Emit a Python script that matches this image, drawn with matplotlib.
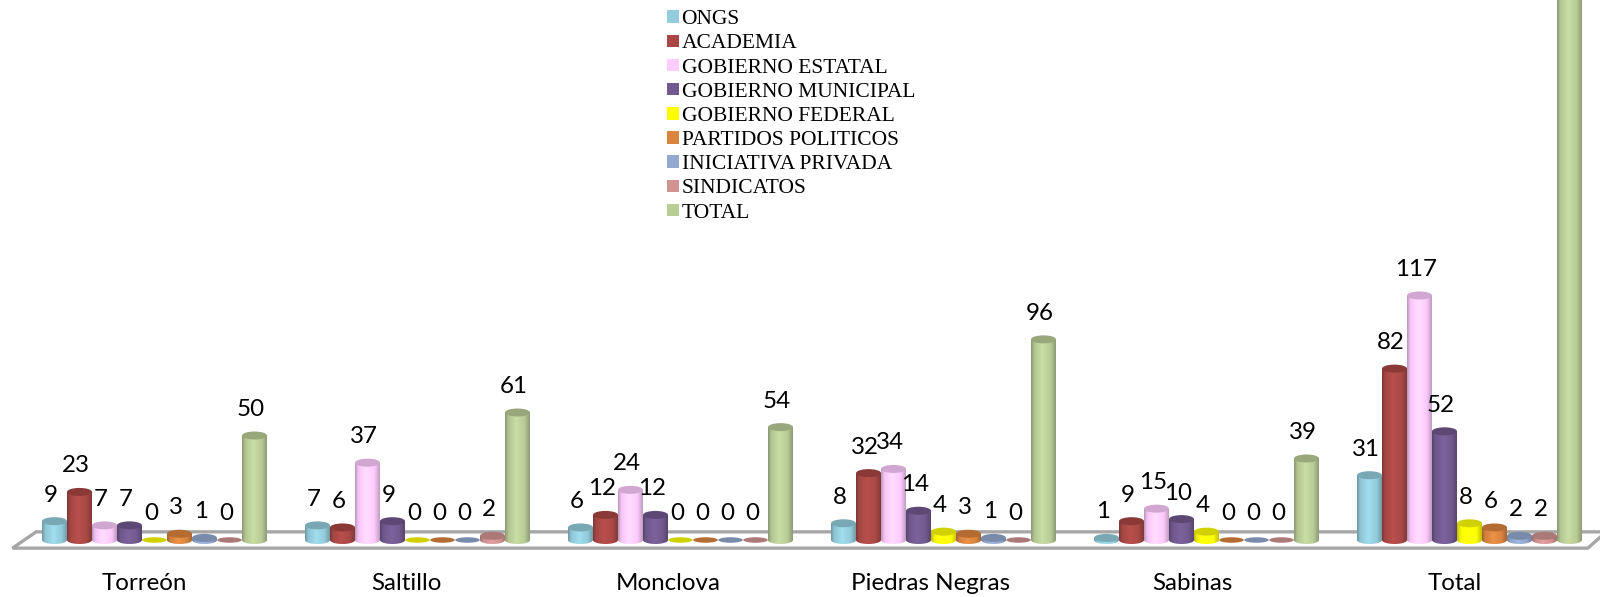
import numpy as np
import matplotlib
matplotlib.use("Agg")
import matplotlib.pyplot as plt
from matplotlib.colors import to_rgb
from matplotlib.patches import Ellipse, Polygon, PathPatch, Patch
from matplotlib.path import Path

# Data
cities = ["Torreón", "Saltillo", "Monclova", "Piedras Negras", "Sabinas", "Total"]
ongs = [9, 7, 6, 8, 1, 31]
academia = [23, 6, 12, 32, 9, 82]
gob_estatal = [7, 37, 24, 34, 15, 117]
gob_municipal = [7, 9, 12, 14, 10, 52]
gob_federal = [0, 0, 0, 4, 4, 8]
partidos = [3, 0, 0, 3, 0, 6]
iniciativa = [1, 0, 0, 1, 0, 2]
sindicatos = [0, 2, 0, 0, 0, 2]
total = [50, 61, 54, 96, 39, 300]

series_names = ["ONGS", "ACADEMIA", "GOBIERNO ESTATAL", "GOBIERNO MUNICIPAL", "GOBIERNO FEDERAL",
                "PARTIDOS POLITICOS", "INICIATIVA PRIVADA", "SINDICATOS", "TOTAL"]
series_values = [ongs, academia, gob_estatal, gob_municipal, gob_federal,
                 partidos, iniciativa, sindicatos, total]
colors = ["#93CDDD", "#AA4643", "#FFCCFF", "#71588F", "#FFFF00",
          "#DB843D", "#93A9CF", "#D19392", "#B9CD96"]

fig = plt.figure(figsize=(16, 5.97), dpi=100)

# scale of the plot, in pixels
px_x = 263.0
px_y = 2.09
zero_x = 154.5
zero_y = 540.0
axes_bottom = 560.0

ax = fig.add_axes([0, (597 - axes_bottom) / 597, 1, axes_bottom / 597])
ax.set_xlim(-zero_x / px_x, (1600 - zero_x) / px_x)
ax.set_ylim(-(axes_bottom - zero_y) / px_y, zero_y / px_y)
ax.autoscale(False)
for s in ax.spines.values():
    s.set_visible(False)
ax.set_yticks([])

# floor of the 3D chart
floor = Polygon([(-0.54, -3.9), (-0.45, 3.9), (5.52, 3.9), (5.45, -3.9)], closed=True,
                facecolor="white", edgecolor="#a6a6a6", linewidth=2.4, zorder=1, clip_on=True)
ax.add_patch(floor)

bar_w = 25.0 / px_x
cap_h = 8.0 / px_y
zero_cap_h = 5.5 / px_y
shade = np.interp(np.linspace(0, 1, 40), [0, 0.12, 0.45, 0.8, 1], [0.72, 0.93, 1.06, 0.96, 0.74])

z = 2
for j, (name, values, color) in enumerate(zip(series_names, series_values, colors)):
    base = np.array(to_rgb(color))
    img = np.clip(base[None, None, :] * shade[None, :, None] + 0.02, 0, 1)
    for i, v in enumerate(values):
        x0 = i + (j - 4.5) * bar_w
        x1 = x0 + bar_w
        xc = x0 + bar_w / 2
        cap_color = base * 0.82
        if v == 0:
            ax.add_patch(Ellipse((xc, 0), bar_w * 0.98, zero_cap_h, facecolor=cap_color,
                                 edgecolor="none", zorder=z))
        else:
            t = np.linspace(np.pi, 2 * np.pi, 30)
            verts = [(x0, v), (x1, v)] + [(xc - bar_w / 2 * np.cos(a), cap_h / 2 * np.sin(a)) for a in t]
            verts.append((x0, v))
            outline = PathPatch(Path(verts), facecolor="none", edgecolor="none",
                                transform=ax.transData)
            ax.add_patch(outline)
            im = ax.imshow(img, extent=(x0, x1, -cap_h / 2, v), aspect="auto", zorder=z,
                           interpolation="bilinear")
            im.set_clip_path(outline)
            ax.add_patch(Ellipse((xc, v), bar_w, cap_h, facecolor=cap_color, edgecolor="none",
                                 zorder=z + 0.5))
        ax.annotate(str(v), xy=(xc, v), xytext=(-3.5, 26), textcoords="offset pixels",
                    ha="center", va="center", fontsize=17.4, family="Lato", color="black",
                    zorder=20)
    z += 1

ax.set_xticks(np.arange(len(cities)) - 0.04 - 0.003 * np.arange(len(cities)))
ax.set_xticklabels(cities, fontsize=17.4, family="Lato")
ax.tick_params(axis="x", length=0, pad=9)

handles = [Patch(facecolor=c, edgecolor="none") for c in colors]
leg = fig.legend(handles, series_names, loc="upper left", bbox_to_anchor=(663 / 1600, 1 - 6 / 597),
                 frameon=False, prop={"family": "Liberation Serif", "size": 15.5},
                 handlelength=0.52, handleheight=0.52, handletextpad=0.14,
                 labelspacing=0.24, borderaxespad=0, borderpad=0.2)

plt.savefig("out.png", dpi=100)
